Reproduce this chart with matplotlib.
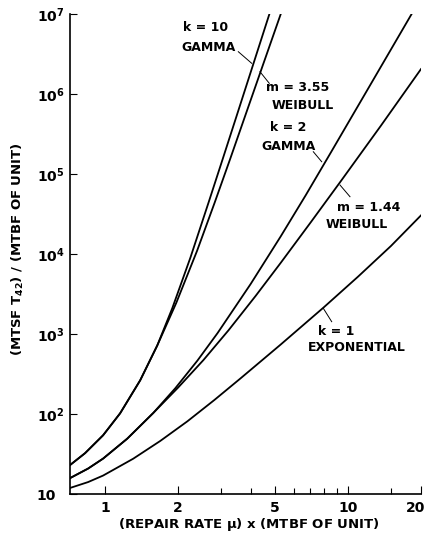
import matplotlib
matplotlib.use("Agg")
import matplotlib.pyplot as plt
import matplotlib.transforms as mtransforms
from matplotlib.ticker import FixedLocator, NullFormatter, NullLocator

# values (log-log)
gamma10_x = [0.717, 0.827, 0.981, 1.153, 1.395, 1.640, 1.891, 2.245, 2.672, 3.067, 3.468, 4.046, 4.75]
gamma10_y = [23.0, 32.4, 54.2, 102, 264, 719, 2100, 8990, 44700, 162000, 514000, 2.2e6, 1e7]

weib355_x = [0.717, 0.827, 0.981, 1.153, 1.395, 1.640, 1.965, 2.393, 2.829, 3.280, 3.742, 4.429, 5.29]
weib355_y = [23.0, 32.4, 54.2, 102, 264, 719, 2460, 11000, 44200, 156700, 494000, 2.14e6, 1e7]

gamma2_x = [0.717, 0.851, 0.981, 1.233, 1.579, 1.946, 2.400, 2.904, 3.974, 5.285, 6.706, 8.507, 12.45, 18.3]
gamma2_y = [15.8, 20.8, 27.7, 49.1, 103, 210, 465, 1025, 4207, 16560, 54400, 185800, 1.346e6, 1e7]

weib144_x = [0.717, 0.851, 0.981, 1.233, 1.579, 2.003, 2.541, 3.223, 4.167, 5.285, 7.033, 9.356, 13.69, 20.0]
weib144_y = [15.8, 20.8, 27.7, 49.1, 103, 215.6, 472.6, 1113, 2989, 7737, 24950, 81600, 403700, 2.05e6]

expo_x = [0.717, 0.851, 0.981, 1.305, 1.688, 2.183, 2.821, 3.613, 4.371, 5.285, 7.959, 11.0, 15.05, 20.0]
expo_y = [11.9, 14.1, 17.0, 27.6, 46.1, 81.1, 150, 279, 454, 738, 2158, 5200, 12620, 30400]

x_ticks = [1, 2, 5, 10, 20]
x_ticklabels = ["1", "2", "5", "10", "20"]
x_minor = [3, 4, 6, 7, 8, 9, 15]
y_ticks = [10, 1e2, 1e3, 1e4, 1e5, 1e6, 1e7]
y_ticklabels = ["10", r"$\mathbf{10^{2}}$", r"$\mathbf{10^{3}}$", r"$\mathbf{10^{4}}$",
                r"$\mathbf{10^{5}}$", r"$\mathbf{10^{6}}$", r"$\mathbf{10^{7}}$"]

# curve annotations: (text, x, y) in axes fraction
curve_labels = [
    ("k = 10", 0.3875, 0.9729), ("GAMMA", 0.3932, 0.9302),
    ("m = 3.55", 0.6481, 0.8469), ("WEIBULL", 0.6624, 0.8094),
    ("k = 2", 0.6211, 0.7635), ("GAMMA", 0.6239, 0.7250),
    ("m = 1.44", 0.8519, 0.5969), ("WEIBULL", 0.8168, 0.5625),
    ("k = 1", 0.7598, 0.3396), ("EXPONENTIAL", 0.8177, 0.3052),
]
leaders = [
    ((0.4795, 0.5177), (0.9215, 0.8973)),
    ((0.5413, 0.5678), (0.8798, 0.8556)),
    ((0.6932, 0.7171), (0.7131, 0.6923)),
    ((0.7692, 0.7977), (0.6438, 0.6194)),
    ((0.7217, 0.7456), (0.3869, 0.3590)),
]

plt.rcParams["font.family"] = "DejaVu Sans"
plt.rcParams["font.weight"] = "bold"

fig = plt.figure(figsize=(4.28, 5.5), dpi=100)
ax = fig.add_axes([0.1636, 0.1018, 0.8200, 0.8727])

lw = 1.3
ax.plot(gamma10_x, gamma10_y, color="black", lw=lw)
ax.plot(weib355_x, weib355_y, color="black", lw=lw)
ax.plot(gamma2_x, gamma2_y, color="black", lw=lw)
ax.plot(weib144_x, weib144_y, color="black", lw=lw)
ax.plot(expo_x, expo_y, color="black", lw=lw)

ax.set_xscale("log")
ax.set_yscale("log")
ax.set_xlim(0.717, 20)
ax.set_ylim(10, 1e7)

ax.spines["top"].set_visible(False)
ax.spines["right"].set_visible(False)
ax.spines["left"].set_linewidth(1.2)
ax.spines["bottom"].set_linewidth(1.2)

ax.xaxis.set_major_locator(FixedLocator(x_ticks))
ax.set_xticklabels(x_ticklabels)
ax.xaxis.set_minor_locator(FixedLocator(x_minor))
ax.xaxis.set_minor_formatter(NullFormatter())
ax.yaxis.set_major_locator(FixedLocator(y_ticks))
ax.set_yticklabels(y_ticklabels)
ax.yaxis.set_minor_locator(NullLocator())

ax.tick_params(axis="x", which="major", direction="in", length=6, width=0.8, pad=5, labelsize=10)
ax.tick_params(axis="x", which="minor", direction="in", length=4, width=0.8)
ax.tick_params(axis="y", which="major", direction="in", length=5, width=0.8, pad=24, labelsize=10)
for lab in ax.get_yticklabels():
    lab.set_horizontalalignment("left")
# keep the "20" inside the figure
last = ax.get_xticklabels()[-1]
last.set_transform(last.get_transform() + mtransforms.ScaledTranslation(-4 / 72, 0, fig.dpi_scale_trans))

fig.text(0.582, 0.046, r"(REPAIR RATE $\mathbf{\mu}$) x (MTBF OF UNIT)",
         ha="center", va="center", fontsize=9.5, fontweight="bold")
fig.text(0.041, 0.547, r"(MTSF T$_{\mathbf{42}}$) / (MTBF OF UNIT)", rotation=90,
         ha="center", va="center", fontsize=9.5, fontweight="bold")

for txt, tx, ty in curve_labels:
    ax.text(tx, ty, txt, transform=ax.transAxes, ha="center", va="center",
            fontsize=9, fontweight="bold")
for xs, ys in leaders:
    ax.plot(xs, ys, color="black", lw=0.7, transform=ax.transAxes)

fig.savefig("out.png", dpi=100)
